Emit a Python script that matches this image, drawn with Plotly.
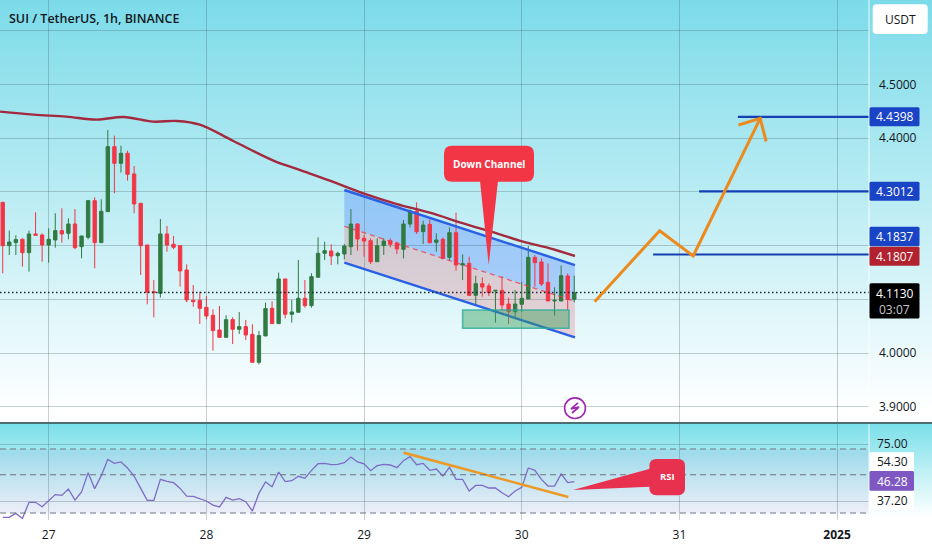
import plotly.graph_objects as go

W, H = 932, 550
PANE_R, MAIN_B, RSI_T, RSI_B = 869, 423, 424, 520
X_RANGE = [-7.413, 124.86]
P_RANGE = [3.8702, 4.6572]
R_RANGE = [16.8, 90.6]

first_hour = -7
candle_open = [4.2808,4.2002,4.2058,4.2120,4.1872,4.2219,4.2200,4.2014,4.2107,4.2281,4.2231,4.2405,4.1983,4.2157,4.2839,4.2058,4.2635,4.3844,4.3534,4.3720,4.3335,4.2790,4.2014,4.1146,4.1115,4.2219,4.2027,4.2002,4.1549,4.0985,4.0985,4.0855,4.0706,4.0433,4.0296,4.0625,4.0445,4.0495,4.0352,3.9831,4.0321,4.0836,4.0551,4.1382,4.0724,4.0762,4.1022,4.0886,4.1413,4.1859,4.1902,4.1815,4.1846,4.1982,4.2404,4.2138,4.2094,4.1703,4.2001,4.2094,4.2051,4.1933,4.2404,4.2646,4.2262,4.2398,4.2063,4.2119,4.1784,4.2243,4.1641,4.1672,4.1077,4.1294,4.1251,4.1158,4.1170,4.0916,4.0773,4.0910,4.1009,4.1784,4.1697,4.1319,4.0972,4.0972,4.1437,4.1003]
candle_high = [4.2808,4.2281,4.2194,4.2138,4.2281,4.2622,4.2231,4.2324,4.2604,4.2697,4.2510,4.2684,4.2182,4.2852,4.2901,4.2864,4.4154,4.4048,4.3862,4.3769,4.3484,4.2790,4.2014,4.1363,4.2498,4.2368,4.2182,4.2002,4.1655,4.1270,4.1146,4.1066,4.0818,4.0879,4.0706,4.0669,4.0768,4.0619,4.0538,4.0414,4.0941,4.0966,4.1500,4.1382,4.0991,4.1735,4.1363,4.1487,4.2157,4.2076,4.2026,4.1889,4.2032,4.2683,4.2417,4.2200,4.2138,4.2138,4.2138,4.2138,4.2076,4.2479,4.2677,4.2807,4.2466,4.2491,4.2231,4.2156,4.2342,4.2615,4.1840,4.1796,4.1443,4.1412,4.1300,4.1176,4.1437,4.1034,4.1176,4.1331,4.1995,4.1827,4.1765,4.1672,4.1226,4.1635,4.1486,4.1443]
candle_low = [4.1487,4.1828,4.1828,4.1611,4.1518,4.2194,4.1704,4.1686,4.1965,4.2058,4.2120,4.1934,4.1766,4.2120,4.1580,4.2058,4.2635,4.2976,4.3360,4.3211,4.2604,4.1456,4.0910,4.0669,4.1035,4.1890,4.1934,4.1239,4.0948,4.0867,4.0545,4.0631,4.0048,4.0296,4.0296,4.0172,4.0359,4.0247,3.9831,3.9794,4.0321,4.0551,4.0551,4.0650,4.0569,4.0762,4.0848,4.0848,4.1413,4.1735,4.1641,4.1654,4.1747,4.1827,4.1908,4.1796,4.1660,4.1703,4.1827,4.1970,4.1846,4.1765,4.2342,4.2218,4.2032,4.2045,4.1889,4.1747,4.1722,4.1536,4.1362,4.1077,4.0897,4.1052,4.1065,4.0569,4.0804,4.0544,4.0637,4.0773,4.1009,4.1238,4.1251,4.0972,4.0699,4.0972,4.0804,4.0947]
candle_close = [4.2002,4.2070,4.2114,4.1872,4.2219,4.2194,4.2014,4.2120,4.2281,4.2219,4.2405,4.1965,4.2182,4.2839,4.2058,4.2641,4.3844,4.3534,4.3720,4.3329,4.2777,4.2002,4.1134,4.1128,4.2219,4.2014,4.1971,4.1531,4.0991,4.0960,4.0836,4.0693,4.0421,4.0296,4.0625,4.0445,4.0495,4.0340,3.9831,4.0328,4.0830,4.0551,4.1382,4.0724,4.0768,4.1022,4.0886,4.1425,4.1859,4.1909,4.1809,4.1858,4.1995,4.2404,4.2125,4.2088,4.1703,4.2001,4.2088,4.2026,4.1939,4.2404,4.2646,4.2262,4.2386,4.2057,4.2107,4.1765,4.2243,4.1641,4.1666,4.1077,4.1294,4.1232,4.1127,4.1170,4.0897,4.0773,4.0916,4.1021,4.1784,4.1685,4.1288,4.0972,4.0984,4.1443,4.1003,4.1127]
candle_hours = list(range(first_hour, first_hour + len(candle_open)))

ma_hours = [-7.4,-2.3,2.7,7.3,11.4,15.9,19.5,23,28.1,34.2,38.2,42.8,47.9,53,58,63.1,68.2,72.2,76.3,80.1]
ma_values = [4.4495,4.4439,4.4402,4.4346,4.4396,4.4309,4.4321,4.4253,4.3949,4.3583,4.3410,4.3211,4.2975,4.2776,4.2615,4.2417,4.2231,4.2076,4.1951,4.1809]

rsi_values = [18.8,18.8,21.9,18.0,30.4,30.4,27.0,31.6,36.3,35.7,40.6,32.1,38.3,53.2,40.9,50.9,63.4,60.3,61.4,56.8,50.6,41.1,31.9,31.9,48.1,46.5,45.5,41.1,35.2,35.0,33.4,31.4,28.3,26.8,34.2,32.1,33.2,30.9,23.7,37.3,46.0,42.4,53.7,46.3,47.0,50.4,48.8,55.0,60.1,60.4,59.3,59.6,60.9,65.2,61.4,60.0,54.7,58.6,59.6,59.1,57.0,62.4,65.5,59.3,60.3,55.0,56.0,50.6,57.3,48.0,48.0,39.1,43.4,43.4,41.4,41.4,37.8,34.7,39.1,41.9,56.8,55.0,48.0,42.9,42.9,52.2,45.5,46.28]
rsi_bands = [71.4, 51.6, 22.2]
rsi_grid = [75, 30.8]
rsi_trend_hours = [54.0, 79.1]
rsi_trend_values = [68.6, 34.5]

channel_hours = [45.0, 80.1]
channel_top = [4.3037, 4.1641]
channel_mid = [4.2361, 4.0965]
channel_bot = [4.1685, 4.0296]
zone_hours = [63.0, 79.2]
zone_prices = [4.0463, 4.0804]

level_starts = [104.9, 99.0, 92.0]
level_prices = [4.4398, 4.3012, 4.1837]
path_hours = [83.1, 93.0, 98.1, 108.3]
path_prices = [4.0959, 4.2280, 4.1809, 4.4371]
head_hours = [105.0, 108.3, 109.2]
head_prices = [4.4247, 4.4371, 4.3943]
last_price = 4.1130

day_ticks = [0, 24, 48, 72, 96, 120]
day_labels = ["27", "28", "29", "30", "31", "<b>2025</b>"]
price_ticks = [3.9, 4.0, 4.1, 4.2, 4.3, 4.4, 4.5, 4.6]
price_labels = ["3.9000", "4.0000", " ", " ", " ", "4.4000", "4.5000", " "]

FONT = "Open Sans"
INK = "#131722"
GRID = "rgba(70,95,105,0.30)"


def px(x):
    return x / W


def py(y):
    return 1 - y / H


def lerp_hex(a, b, t):
    return "rgb(%d,%d,%d)" % tuple(round(a[i] + (b[i] - a[i]) * t) for i in range(3))


shapes = []


def page_rect(x0, y0, x1, y1, fill, layer="above"):
    shapes.append(dict(type="rect", xref="paper", yref="paper", x0=px(x0), x1=px(x1), y0=py(y1), y1=py(y0),
                       fillcolor=fill, line_width=0, layer=layer))


def page_path(points, fill, layer="above"):
    d = " ".join(("M" if i == 0 else "L") + f"{px(a):.5f},{py(b):.5f}" for i, (a, b) in enumerate(points)) + " Z"
    shapes.append(dict(type="path", xref="paper", yref="paper", path=d, fillcolor=fill, line_width=0, layer=layer))


def round_rect(x0, y0, x1, y1, r, fill, layer="above", extra=None):
    def P(a, b):
        return f"{px(a):.5f},{py(b):.5f}"
    d = (f"M{P(x0+r,y0)} L{P(x1-r,y0)} Q{P(x1,y0)} {P(x1,y0+r)} L{P(x1,y1-r)} Q{P(x1,y1)} {P(x1-r,y1)} "
         f"L{P(x0+r,y1)} Q{P(x0,y1)} {P(x0,y1-r)} L{P(x0,y0+r)} Q{P(x0,y0)} {P(x0+r,y0)} Z")
    shapes.append(dict(type="path", xref="paper", yref="paper", path=d, fillcolor=fill, line_width=0, layer=layer))


# page gradients behind both panes
top, white = (124, 219, 233), (255, 255, 255)
for y in range(0, 423, 2):
    page_rect(0, y, W, y + 3, lerp_hex(top, white, min(1, y / 410)), "below")
top2 = (124, 224, 234)
for y in range(424, 520, 2):
    page_rect(0, y, W, y + 3, lerp_hex(top2, white, min(1, (y - 424) / 92)), "below")

# channel fills, zone, RSI band: from the data lists
def poly(xs, ys, xref, yref, fill, layer):
    d = " ".join(("M" if i == 0 else "L") + f"{a},{b}" for i, (a, b) in enumerate(zip(xs, ys))) + " Z"
    shapes.append(dict(type="path", xref=xref, yref=yref, path=d, fillcolor=fill, line_width=0, layer=layer))


ch_x = channel_hours + channel_hours[::-1]
poly(ch_x, channel_top + channel_mid[::-1], "x", "y", "rgba(41,98,255,0.27)", "below")
poly(ch_x, channel_mid + channel_bot[::-1], "x", "y", "rgba(242,54,69,0.20)", "below")
shapes.append(dict(type="rect", xref="x", yref="y", x0=zone_hours[0], x1=zone_hours[1], y0=zone_prices[0], y1=zone_prices[1],
                   fillcolor="rgba(56,160,90,0.45)", line=dict(color="rgba(40,170,150,0.8)", width=1.5), layer="above"))
shapes.append(dict(type="rect", xref="paper", yref="y2", x0=0, x1=px(PANE_R), y0=rsi_bands[2], y1=rsi_bands[0],
                   fillcolor="rgba(126,87,194,0.09)", line_width=0, layer="below"))
for b in rsi_bands:
    shapes.append(dict(type="line", xref="paper", yref="y2", x0=0, x1=px(PANE_R), y0=b, y1=b,
                       line=dict(color="#6f7680", width=1.2, dash="6px,4px"), layer="above"))

# pane separator and price-axis edge
page_rect(0, 422, W, 424, "#4c6e70")
page_rect(868.4, 0, 869.6, 422, "rgba(255,255,255,0.7)")
page_rect(868.4, 424, 869.6, 520, "rgba(255,255,255,0.7)")

# badges
annotations = []


def label(x, y, text, color=INK, size=12, anchor="center", weight=None):
    f = dict(family=FONT, size=size, color=color)
    if weight:
        f["weight"] = weight
    annotations.append(dict(xref="paper", yref="paper", x=px(x), y=py(y), text=text, showarrow=False,
                            xanchor=anchor, yanchor="middle", font=f, align="center", borderpad=0))


BLUE = "#1a44c6"
for (y0, y1, c, t) in [(107.3, 126.3, BLUE, "4.4398"), (181.7, 200.7, BLUE, "4.3012"),
                       (226.7, 246.2, BLUE, "4.1837"), (246.7, 265.7, "#b2222e", "4.1807")]:
    round_rect(869.5, y0, 919.5, y1, 1.5, c)
    label(894.5, (y0 + y1) / 2, t, "#ffffff", 12)
round_rect(869.5, 283.3, 919.5, 318.5, 1.5, "#000000")
label(894.5, 293, "4.1130", "#ffffff", 12)
label(894.5, 309, "03:07", "#c8c8c8", 12)

round_rect(872.7, 4.3, 927.7, 34, 4, "#ffffff")
label(900, 19.5, "USDT", INK, 12)

page_rect(869.5, 452.3, 914, 471, "#ffffff")
page_rect(869.5, 490.7, 914, 510, "#ffffff")
round_rect(869.5, 471, 914, 490.7, 1.5, "#7e57c2")
label(892, 443.5, "75.00")
label(892, 461.5, "54.30")
label(892, 481, "46.28", "#ffffff")
label(892, 500, "37.20")

label(8, 18.5, "SUI / TetherUS, 1h, BINANCE", INK, 12.5, "left", 600)

# callouts
round_rect(444, 145.7, 534, 181.7, 8, "#f23645")
page_path([(480, 181), (498, 181), (488.7, 265)], "#f23645")
label(489, 163.5, "Down Channel", "#ffffff", 10, "center", 700)
round_rect(649.4, 458.9, 685, 495.2, 7, "#e8304f")
page_path([(650, 468.7), (650, 486.7), (573, 490)], "#e8304f")
label(667, 476.5, "RSI", "#ffffff", 9.5, "center", 700)

# lightning mark
shapes.append(dict(type="circle", xref="paper", yref="paper", x0=px(564.6), x1=px(585.4), y0=py(418.5), y1=py(397.9),
                   fillcolor="#ffffff", line=dict(color="#9c27b0", width=1.6), layer="above"))
d = " ".join(("M" if i == 0 else "L") + f"{px(a):.5f},{py(b):.5f}" for i, (a, b) in
             enumerate([(578, 402.8), (571, 408.8), (579, 407), (572, 413)]))
shapes.append(dict(type="path", xref="paper", yref="paper", path=d, line=dict(color="#9c27b0", width=1.7), layer="above"))

fig = go.Figure()
fig.add_trace(go.Candlestick(x=candle_hours, open=candle_open, high=candle_high, low=candle_low, close=candle_close,
                             xaxis="x", yaxis="y", whiskerwidth=0,
                             increasing=dict(line=dict(color="#317a42", width=1), fillcolor="#317a42"),
                             decreasing=dict(line=dict(color="#f23645", width=1), fillcolor="#f23645"),
                             hoverinfo="skip"))


def line(xs, ys, color, width, axis="y", dash=None, shape="linear"):
    xa = "x" if axis == "y" else "x2"
    fig.add_trace(go.Scatter(x=xs, y=ys, mode="lines", xaxis=xa, yaxis=axis, hoverinfo="skip",
                             line=dict(color=color, width=width, dash=dash, shape=shape)))


line(channel_hours, channel_mid, "rgba(242,54,69,0.75)", 1.3, dash="5px,4px")
line(channel_hours, channel_top, "#2a60e6", 2.4)
line(channel_hours, channel_bot, "#2a60e6", 2.4)
line(ma_hours, ma_values, "#a32a3e", 2.4, shape="spline")
line([X_RANGE[0], X_RANGE[1]], [last_price, last_price], "#1a2a2e", 1.4, dash="1.5px,2.5px")
for s, p in zip(level_starts, level_prices):
    line([s, X_RANGE[1]], [p, p], "#1440b4", 2.2)
line(path_hours, path_prices, "#ec8a1e", 3)
line(head_hours, head_prices, "#ec8a1e", 3)
line(candle_hours, rsi_values, "#7e6bc6", 1.3, axis="y2")
line(rsi_trend_hours, rsi_trend_values, "#eb9a2a", 2.6, axis="y2")

fig.update_layout(
    width=W, height=H, autosize=False, showlegend=False, margin=dict(l=0, r=0, t=0, b=0),
    paper_bgcolor="#ffffff", plot_bgcolor="rgba(0,0,0,0)", font=dict(family=FONT, size=12, color=INK),
    boxgap=0.27, shapes=shapes, annotations=annotations,
    xaxis=dict(domain=[0, px(PANE_R)], range=X_RANGE, anchor="y", tickmode="array", tickvals=day_ticks,
               showticklabels=False, showgrid=True, gridcolor=GRID, gridwidth=1.2, zeroline=False,
               rangeslider=dict(visible=False), ticks=""),
    yaxis=dict(domain=[py(MAIN_B), 1], range=P_RANGE, anchor="x", side="right", tickmode="array",
               tickvals=price_ticks, ticktext=price_labels, showgrid=True, gridcolor=GRID, gridwidth=1.2,
               zeroline=False, ticks="", ticklabelstandoff=9, tickfont=dict(family=FONT, size=12, color=INK)),
    xaxis2=dict(domain=[0, px(PANE_R)], range=X_RANGE, anchor="y2", tickmode="array", tickvals=day_ticks,
                ticktext=day_labels, showgrid=True, gridcolor=GRID, gridwidth=1.2, zeroline=False, ticks="",
                ticklabelstandoff=6, tickfont=dict(family=FONT, size=12, color=INK)),
    yaxis2=dict(domain=[py(RSI_B), py(RSI_T)], range=R_RANGE, anchor="x2", side="right", tickmode="array",
                tickvals=rsi_grid, ticktext=[" ", " "], showgrid=True, gridcolor=GRID, gridwidth=1.2,
                zeroline=False, ticks=""),
)

fig.write_html("out.html", config={"displayModeBar": False},
               post_script="document.body.style.margin='0';document.documentElement.style.overflow='hidden';")
